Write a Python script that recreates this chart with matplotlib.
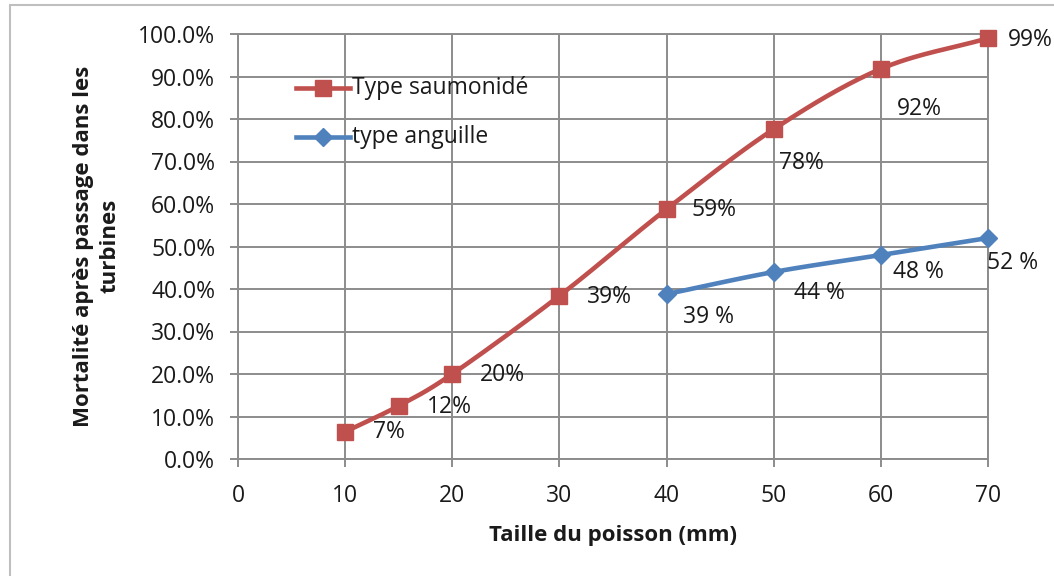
import numpy as np
import matplotlib
matplotlib.use("Agg")
import matplotlib.pyplot as plt
from matplotlib.patches import Rectangle

# ---- data ----
sizes_salmon = [10, 15, 20, 30, 40, 50, 60, 70]
mort_salmon = [0.064, 0.125, 0.200, 0.384, 0.588, 0.776, 0.918, 0.990]
labels_salmon = ["7%", "12%", "20%", "39%", "59%", "78%", "92%", "99%"]

sizes_eel = [40, 50, 60, 70]
mort_eel = [0.388, 0.440, 0.480, 0.520]
labels_eel = ["39 %", "44 %", "48 %", "52 %"]

series_names = ["Type saumonidé", "type anguille"]
x_ticks = [0, 10, 20, 30, 40, 50, 60, 70]
y_ticks = [0.0, 0.1, 0.2, 0.3, 0.4, 0.5, 0.6, 0.7, 0.8, 0.9, 1.0]

RED = "#C0504D"
BLUE = "#4F81BD"
GRID = "#8C8C8C"
TXT = "#1a1a1a"
FONT = "Open Sans"
FS = 16.5
FSB = 16

plt.rcParams['font.family'] = [FONT, 'DejaVu Sans']


def smooth(xs, ys, sx=750 / 70, sy=425, n=30):
    """Catmull-Rom smoothing (like Excel 'smoothed line') in screen-like units."""
    P = np.column_stack([np.array(xs, float) * sx, np.array(ys, float) * sy])
    P = np.vstack([P[0] - (P[1] - P[0]), P, P[-1] + (P[-1] - P[-2])])
    out = []
    for i in range(1, len(P) - 2):
        p0, p1, p2, p3 = P[i - 1], P[i], P[i + 1], P[i + 2]
        t = np.linspace(0, 1, n, endpoint=(i == len(P) - 3))[:, None]
        seg = 0.5 * ((2 * p1) + (-p0 + p2) * t + (2 * p0 - 5 * p1 + 4 * p2 - p3) * t ** 2
                     + (-p0 + 3 * p1 - 3 * p2 + p3) * t ** 3)
        out.append(seg)
    out = np.vstack(out)
    return out[:, 0] / sx, out[:, 1] / sy


fig = plt.figure(figsize=(10.54, 5.76), dpi=100)
fig.patches.append(Rectangle((10 / 1054, -0.1), 1.2, 1 - 5 / 576 + 0.1, transform=fig.transFigure,
                             fill=False, edgecolor="#BFBFBF", linewidth=1.5, zorder=0))
ax = fig.add_axes([238 / 1054, 1 - 459 / 576, 750 / 1054, 425 / 576])

ax.set_xlim(0, 70)
ax.set_ylim(0, 1.0)
ax.set_xticks(x_ticks)
ax.set_yticks(y_ticks)
ax.set_yticklabels([f"{v * 100:.1f}%" for v in y_ticks])
ax.grid(True, color=GRID, linewidth=1.4)
ax.set_axisbelow(True)
for s in ax.spines.values():
    s.set_color(GRID)
    s.set_linewidth(1.4)
ax.tick_params(direction="out", length=5.8, width=1.4, color=GRID, labelsize=FS,
               labelcolor=TXT)
ax.tick_params(axis="y", pad=10.5)
ax.tick_params(axis="x", pad=12.5)

# series
xs, ys = smooth(sizes_salmon, mort_salmon)
ax.plot(xs, ys, color=RED, lw=3.3, solid_capstyle="round", zorder=3, clip_on=False)
ax.plot(sizes_salmon, mort_salmon, linestyle="none", marker="s", markersize=12,
        color=RED, zorder=4, clip_on=False)
xe, ye = smooth(sizes_eel, mort_eel)
ax.plot(xe, ye, color=BLUE, lw=3.3, solid_capstyle="round", zorder=3, clip_on=False)
ax.plot(sizes_eel, mort_eel, linestyle="none", marker="D", markersize=9.5,
        color=BLUE, zorder=4, clip_on=False)

# data labels (offsets in points)
off_salmon = [(20, 0), (20, -1), (20, -1), (20, -1), (18, -1), (4, -24), (11.5, -29), (14.5, -1)]
for x, y, t, (dx, dy) in zip(sizes_salmon, mort_salmon, labels_salmon, off_salmon):
    ax.annotate(t, (x, y), xytext=(dx, dy), textcoords="offset points", ha="left", va="center",
                fontsize=FS, color=TXT, annotation_clip=False, zorder=5)
off_eel = [(11.5, -16.5), (14.5, -15), (8.5, -12), (-0.7, -18)]
for x, y, t, (dx, dy) in zip(sizes_eel, mort_eel, labels_eel, off_eel):
    ax.annotate(t, (x, y), xytext=(dx, dy), textcoords="offset points", ha="left", va="center",
                fontsize=FS, color=TXT, annotation_clip=False, zorder=5)

# legend drawn manually at reference positions (axes coords)
ax_w, ax_h = 750, 425
for i, (name, col, mk, ms) in enumerate([(series_names[0], RED, "s", 12),
                                          (series_names[1], BLUE, "D", 9.5)]):
    ypx = [88, 137][i]
    yy = (459 - ypx) / ax_h
    x0 = (296 - 238) / ax_w
    x1 = (350 - 238) / ax_w
    ax.plot([x0, x1], [yy, yy], transform=ax.transAxes, color=col, lw=3.3, zorder=5,
            clip_on=False)
    ax.plot([(x0 + x1) / 2], [yy], transform=ax.transAxes, marker=mk, markersize=ms,
            color=col, zorder=6, clip_on=False)
    ax.text((352 - 238) / ax_w, yy, name, transform=ax.transAxes, ha="left", va="center",
            fontsize=FS, color=TXT, zorder=6)

fig.text(613 / 1054, 1 - 535 / 576, "Taille du poisson (mm)", ha="center", va="center",
         fontsize=FSB, fontweight="bold", color=TXT)
fig.text(97 / 1054, 1 - 246 / 576, "Mortalité après passage dans les\nturbines",
         ha="center", va="center", rotation=90, fontsize=FSB, fontweight="bold",
         color=TXT, linespacing=1.35, multialignment="center")

fig.savefig("out.png", dpi=100, facecolor="white")
